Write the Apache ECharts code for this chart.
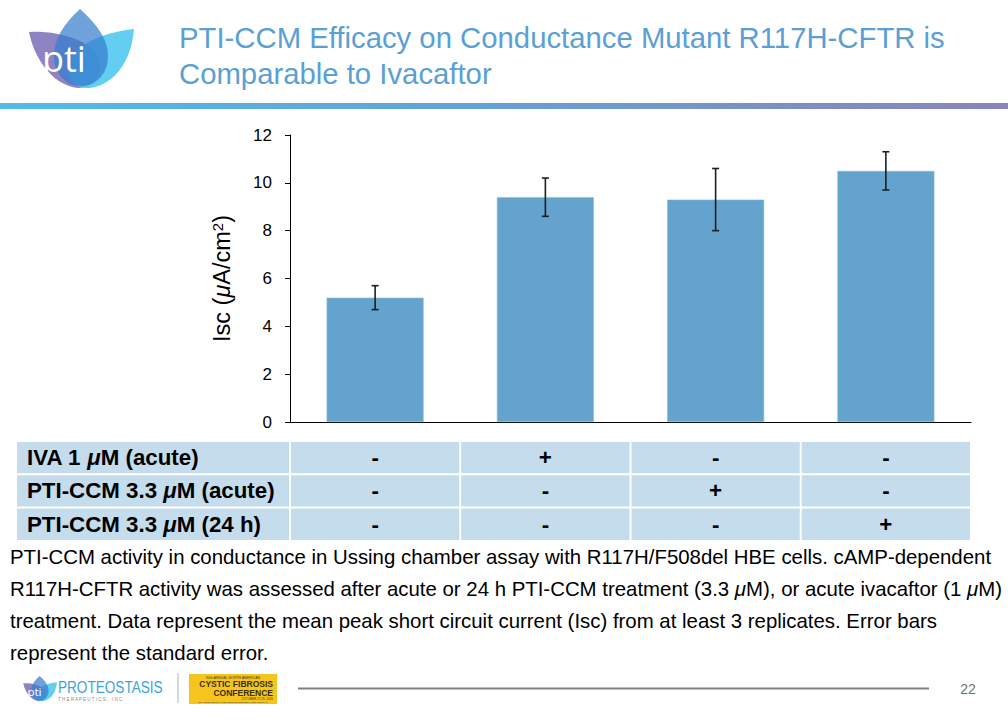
<!DOCTYPE html>
<html>
<head>
<meta charset="utf-8">
<script src="https://cdn.jsdelivr.net/npm/echarts@6/dist/echarts.min.js"></script>
<style>
html,body{margin:0;padding:0;background:#fff;}
#chart{width:1008px;height:720px;}
</style>
</head>
<body>
<div id="chart"></div>
<script>
// ---------- data ----------
const categories = ['Control', 'IVA 1 μM (acute)', 'PTI-CCM 3.3 μM (acute)', 'PTI-CCM 3.3 μM (24 h)'];
const iscMean = [5.2, 9.4, 9.3, 10.5];
const iscSem = [0.5, 0.8, 1.3, 0.8];
const yMin = 0, yMax = 12, yStep = 2;
const titleLines = ['PTI-CCM Efficacy on Conductance Mutant R117H-CFTR is', 'Comparable to Ivacaftor'];
const tableRowLabels = ['IVA 1 μM (acute)', 'PTI-CCM 3.3 μM (acute)', 'PTI-CCM 3.3 μM (24 h)'];
const tableSigns = [
  ['-', '+', '-', '-'],
  ['-', '-', '+', '-'],
  ['-', '-', '-', '+']
];
const captionLines = [
  'PTI-CCM activity in conductance in Ussing chamber assay with R117H/F508del HBE cells. cAMP-dependent',
  'R117H-CFTR activity was assessed after acute or 24 h PTI-CCM treatment (3.3 μM), or acute ivacaftor (1 μM)',
  'treatment. Data represent the mean peak short circuit current (Isc) from at least 3 replicates. Error bars',
  'represent the standard error.'
];
const pageNumber = '22';

// ---------- layout / style ----------
const FONT = "'Liberation Sans', Arial, Helvetica, sans-serif";
const grid = {left: 290, right: 37, top: 135, bottom: 298};
const plotLeft = grid.left, plotRight = 1008 - grid.right;
const band = (plotRight - plotLeft) / categories.length;

// make μ italic in rich text
function richMu(s, base) {
  return s.split('μ').map(p => p ? '{' + base + '|' + p + '}' : '').join('{' + base + 'i|μ}');
}

// sample cubic bezier path into polygon points (decorative logo only)
function bez(start, segs) {
  const pts = [start.slice()];
  let p0 = start;
  segs.forEach(s => {
    const c1 = [s[0], s[1]], c2 = [s[2], s[3]], p3 = [s[4], s[5]];
    for (let k = 1; k <= 14; k++) {
      const t = k / 14, u = 1 - t;
      pts.push([
        u*u*u*p0[0] + 3*u*u*t*c1[0] + 3*u*t*t*c2[0] + t*t*t*p3[0],
        u*u*u*p0[1] + 3*u*u*t*c1[1] + 3*u*t*t*c2[1] + t*t*t*p3[1]
      ]);
    }
    p0 = p3;
  });
  return pts;
}
const petalLeft = bez([29, 32], [[50, 30, 95, 38, 100, 62], [102, 78, 90, 88, 78, 88], [55, 86, 35, 62, 29, 32]]);
const petalRight = bez([134, 29], [[132, 56, 118, 84, 90, 88], [76, 89, 66, 80, 68, 66], [72, 44, 105, 32, 134, 29]]);
const petalMid = bez([80, 9], [[92, 20, 108, 36, 108, 56], [108, 74, 96, 86, 81, 86], [66, 86, 54, 74, 54, 56], [54, 36, 68, 20, 80, 9]]);

function logo(x, y, s) {
  return {
    type: 'group', x: x, y: y, scaleX: s, scaleY: s,
    children: [
      {type: 'polygon', shape: {points: petalLeft}, style: {fill: 'rgba(132,120,190,0.92)'}},
      {type: 'polygon', shape: {points: petalRight}, style: {fill: 'rgba(70,198,240,0.85)'}},
      {type: 'polygon', shape: {points: petalMid}, style: {fill: 'rgba(55,125,205,0.72)'}},
      {type: 'text', style: {text: 'pti', x: 64, y: 58, align: 'center', verticalAlign: 'middle',
        fill: '#ffffff', fontSize: 36, fontFamily: "'Open Sans', 'Liberation Sans', sans-serif"}}
    ]
  };
}

const elements = [];

// logo & title
elements.push(logo(0, 0, 1));
titleLines.forEach((t, i) => {
  elements.push({type: 'text', style: {text: t, x: 179, y: 37 + i * 36, verticalAlign: 'middle',
    fill: '#5aa0d5', fontSize: 29.3, fontFamily: FONT}});
});
elements.push({type: 'rect', shape: {x: 0, y: 103, width: 1008, height: 6},
  style: {fill: {type: 'linear', x: 0, y: 0, x2: 1, y2: 0,
    colorStops: [{offset: 0, color: '#4fbde8'}, {offset: 0.5, color: '#66a0d2'}, {offset: 1, color: '#8a84be'}]}}});

// table
const tableTop = 442, rowH = 33.3, tableLeft = 17;
const TF = 22.3;
tableRowLabels.forEach((lab, r) => {
  const y = tableTop + r * rowH;
  elements.push({type: 'rect', shape: {x: tableLeft, y: y, width: plotLeft - tableLeft - 1, height: rowH - 2},
    style: {fill: '#c5dcec'}});
  elements.push({type: 'text', style: {text: richMu(lab, 'b'), x: 27, y: y + (rowH - 2) / 2,
    verticalAlign: 'middle', rich: {
      b: {fontSize: TF, fontWeight: 'bold', fontFamily: FONT, fill: '#000'},
      bi: {fontSize: TF, fontWeight: 'bold', fontStyle: 'italic', fontFamily: FONT, fill: '#000'}
    }}});
  tableSigns[r].forEach((sg, c) => {
    const x0 = plotLeft + c * band;
    elements.push({type: 'rect', shape: {x: x0 + 1, y: y, width: band - 2, height: rowH - 2},
      style: {fill: '#c5dcec'}});
    elements.push({type: 'text', style: {text: sg, x: x0 + band / 2, y: y + (rowH - 2) / 2,
      align: 'center', verticalAlign: 'middle', fontSize: TF, fontWeight: 'bold', fontFamily: FONT, fill: '#000'}});
  });
});

// caption
const CF = 20.4;
captionLines.forEach((t, i) => {
  elements.push({type: 'text', style: {text: richMu(t, 'c'), x: 10, y: 557 + i * 32, verticalAlign: 'middle',
    rich: {
      c: {fontSize: CF, fontFamily: FONT, fill: '#000'},
      ci: {fontSize: CF, fontStyle: 'italic', fontFamily: FONT, fill: '#000'}
    }}});
});

// footer
elements.push(logo(14, 673, 0.32));
elements.push({type: 'text', x: 58, y: 687, scaleX: 0.8, style: {text: 'PROTEOSTASIS', x: 0, y: 0, verticalAlign: 'middle',
  fill: '#3ea2dc', fontSize: 17, fontFamily: FONT}});
elements.push({type: 'text', style: {text: 'T H E R A P E U T I C S ,   I N C .', x: 58, y: 699, verticalAlign: 'middle',
  fill: '#8a8a8a', fontSize: 4.5, fontFamily: FONT}});
elements.push({type: 'line', shape: {x1: 178, y1: 673, x2: 178, y2: 703}, style: {stroke: '#b0b0b0', lineWidth: 1}});
elements.push({type: 'rect', shape: {x: 189, y: 674, width: 88, height: 30}, style: {fill: '#f6c51d'}});
elements.push({type: 'text', style: {text: '30th ANNUAL NORTH AMERICAN', x: 233, y: 677.5, align: 'center', verticalAlign: 'middle',
  fill: '#4a3b1a', fontSize: 3.5, fontFamily: FONT}});
elements.push({type: 'text', style: {text: 'CYSTIC FIBROSIS', x: 273, y: 684.3, align: 'right', verticalAlign: 'middle',
  fill: '#3a2e18', fontSize: 8.5, fontWeight: 'bold', fontFamily: FONT}});
elements.push({type: 'text', style: {text: 'CONFERENCE', x: 273, y: 692.5, align: 'right', verticalAlign: 'middle',
  fill: '#3a2e18', fontSize: 8.5, fontWeight: 'bold', fontFamily: FONT}});
elements.push({type: 'text', style: {text: 'OCTOBER 27-29, 2016', x: 273, y: 699, align: 'right', verticalAlign: 'middle',
  fill: '#4a3b1a', fontSize: 3, fontFamily: FONT}});
elements.push({type: 'text', style: {text: 'ORANGE COUNTY CONVENTION CENTER • ORLANDO, FL', x: 233, y: 702.3, align: 'center', verticalAlign: 'middle',
  fill: '#4a3b1a', fontSize: 2.5, fontFamily: FONT}});
elements.push({type: 'line', shape: {x1: 298, y1: 688.5, x2: 929, y2: 688.5}, style: {stroke: '#808080', lineWidth: 2}});
elements.push({type: 'text', style: {text: pageNumber, x: 968, y: 689, align: 'center', verticalAlign: 'middle',
  fill: '#707070', fontSize: 14, fontFamily: FONT}});

// ---------- chart ----------
const chart = echarts.init(document.getElementById('chart'), null, {renderer: 'svg'});
chart.setOption({
  animation: false,
  backgroundColor: '#ffffff',
  grid: grid,
  xAxis: {
    type: 'category', data: categories,
    axisLine: {lineStyle: {color: '#000', width: 1}},
    axisTick: {show: false}, axisLabel: {show: false}
  },
  yAxis: {
    type: 'value', min: yMin, max: yMax, interval: yStep,
    name: '{n|Isc (}{ni|μ}{n|A/cm}{s|2}{n|)}',
    nameLocation: 'middle', nameGap: 56, nameRotate: 90,
    nameTextStyle: {rich: {
      n: {fontSize: 23.5, fontFamily: FONT, color: '#000'},
      ni: {fontSize: 23.5, fontStyle: 'italic', fontFamily: FONT, color: '#000'},
      s: {fontSize: 15, fontFamily: FONT, color: '#000', padding: [0, 0, 9, 0]}
    }},
    axisLine: {show: true, lineStyle: {color: '#000', width: 1}},
    axisTick: {show: true, length: 5, inside: false, lineStyle: {color: '#000'}},
    axisLabel: {fontSize: 17, fontFamily: FONT, color: '#000', margin: 18},
    splitLine: {show: false}
  },
  series: [
    {
      type: 'bar', data: iscMean, barWidth: '57%',
      itemStyle: {color: '#63a3cd', borderColor: '#8fc0e0', borderWidth: 0.6},
      z: 2
    },
    {
      type: 'custom', z: 3,
      data: iscMean.map((m, i) => [i, m, iscSem[i]]),
      encode: {x: 0, y: 1},
      renderItem: function (params, api) {
        const i = api.value(0), m = api.value(1), e = api.value(2);
        const top = api.coord([i, m + e]), bot = api.coord([i, m - e]);
        const hw = 3.5, st = {stroke: '#1e1e1e', lineWidth: 1.6};
        return {type: 'group', children: [
          {type: 'line', shape: {x1: top[0], y1: top[1], x2: bot[0], y2: bot[1]}, style: st},
          {type: 'line', shape: {x1: top[0] - hw, y1: top[1], x2: top[0] + hw, y2: top[1]}, style: st},
          {type: 'line', shape: {x1: bot[0] - hw, y1: bot[1], x2: bot[0] + hw, y2: bot[1]}, style: st}
        ]};
      }
    }
  ],
  graphic: {elements: elements}
});
</script>
</body>
</html>
